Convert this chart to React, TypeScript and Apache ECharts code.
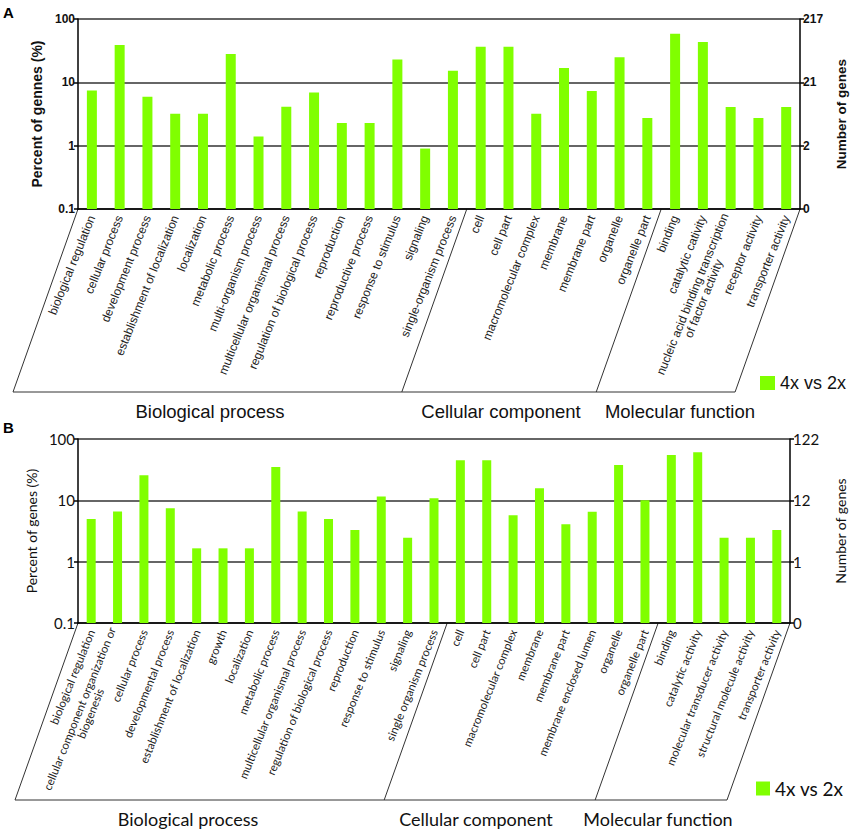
import React, { useEffect, useRef } from "react";
import * as echarts from "echarts";

const seriesName = "4x vs 2x";

const categoriesA = [
  "biological regulation",
  "cellular process",
  "development process",
  "establishment of localization",
  "localization",
  "metabolic process",
  "multi-organism process",
  "multicellular organismal process",
  "regulation of biological process",
  "reproduction",
  "reproductive process",
  "response to stimulus",
  "signaling",
  "single-organism process",
  "cell",
  "cell part",
  "macromolecular complex",
  "membrane",
  "membrane part",
  "organelle",
  "organelle part",
  "binding",
  "catalytic cativity",
  "nucleic acid binding transcription\nof factor activity",
  "receptor activity",
  "transporter activity",
];
const percentA = [
  7.4, 38.8, 5.9, 3.2, 3.2, 28, 1.39, 4.1, 6.9, 2.28, 2.28, 23, 0.9, 15.3,
  36.6, 36.6, 3.2, 16.8, 7.3, 24.8, 2.73,
  58.7, 43.3, 4.08, 2.73, 4.08,
];
const groupsA = [
  { name: "Biological process", count: 14 },
  { name: "Cellular component", count: 7 },
  { name: "Molecular function", count: 5 },
];

const categoriesB = [
  "biological regulation",
  "cellular component organization or\nbiogenesis",
  "cellular process",
  "developmental process",
  "establishment of localization",
  "growth",
  "localization",
  "metabolic process",
  "multicellular organismal process",
  "regulation of biological process",
  "reproduction",
  "response to stimulus",
  "signaling",
  "single organism process",
  "cell",
  "cell part",
  "macromolecular complex",
  "membrane",
  "membrane part",
  "membrane enclosed lumen",
  "organelle",
  "organelle part",
  "binding",
  "catalytic activity",
  "molecular transducer activity",
  "structural molecule activity",
  "transporter activity",
];
const percentB = [
  4.96, 6.6, 25.6, 7.4, 1.65, 1.65, 1.65, 34.9, 6.6, 4.96, 3.28, 11.5, 2.46, 10.8,
  44.9, 44.9, 5.7, 15.7, 4.06, 6.5, 37.7, 10.0,
  54.8, 60.6, 2.46, 2.46, 3.28,
];
const groupsB = [
  { name: "Biological process", count: 14 },
  { name: "Cellular component", count: 8 },
  { name: "Molecular function", count: 5 },
];

const leftTicks = ["0.1", "1", "10", "100"];
const rightTicksA = ["0", "2", "21", "217"];
const rightTicksB = ["0", "1", "12", "122"];

const FONT_A = "'Liberation Sans', Arial, sans-serif";
const FONT_B = "Lato, 'Open Sans', sans-serif";
const GREEN = "#80FF00";

const tickIndex = (v: number) => Math.round(Math.log10(v)) + 1;

function catLabel(fontFamily: string, fontSize: number) {
  return {
    interval: 0,
    rotate: 68,
    margin: 7,
    fontSize,
    fontFamily,
    color: "#222",
    formatter: (v: string) =>
      v.includes("\n")
        ? v
            .split("\n")
            .map((s, i) => (i === 0 ? `{a|${s}}` : `{b|${s}}`))
            .join("\n")
        : v,
    rich: {
      a: { fontSize, fontFamily, color: "#222" },
      b: { fontSize, fontFamily, color: "#222", align: "center" },
    },
  };
}

function yAxisDef(
  gridIndex: number,
  position: "left" | "right",
  labels: string[],
  name: string,
  nameGap: number,
  labelFont: any,
  nameFont: any,
  split: boolean
) {
  return {
    gridIndex,
    type: "log",
    logBase: 10,
    min: 0.1,
    max: 100,
    startValue: 0.1,
    position,
    axisLine: { show: true, lineStyle: { color: "#000", width: 1.5 } },
    axisTick: { show: true, length: 4, lineStyle: { color: "#000", width: 1.5 } },
    axisLabel: {
      ...labelFont,
      color: "#111",
      margin: 3,
      formatter: (v: number) => labels[tickIndex(v)],
    },
    splitLine: { show: split, lineStyle: { color: "#333", width: 1.5 } },
    name,
    nameLocation: "middle",
    nameRotate: 90,
    nameGap,
    nameTextStyle: { ...nameFont, color: "#111" },
  };
}

export default function App() {
  const ref = useRef<HTMLDivElement>(null);

  useEffect(() => {
    if (!ref.current) return;
    const chart = echarts.init(ref.current, undefined, { renderer: "svg" });

    const axisLineStyle = { color: "#000", width: 1.5 };
    const tickA = { fontSize: 12, fontWeight: "bold", fontFamily: FONT_A };
    const tickB = { fontSize: 15, fontFamily: FONT_B };

    const option: any = {
      animation: false,
      backgroundColor: "#fff",
      grid: [
        { left: 78, top: 19, width: 732, height: 190 },
        { left: 78, top: 439, width: 712, height: 184 },
      ],
      xAxis: [
        {
          gridIndex: 0,
          type: "category",
          data: categoriesA,
          axisLine: { lineStyle: axisLineStyle },
          axisTick: { show: false },
          axisLabel: catLabel(FONT_A, 12),
        },
        {
          gridIndex: 1,
          type: "category",
          data: categoriesB,
          axisLine: { lineStyle: axisLineStyle },
          axisTick: { show: false },
          axisLabel: catLabel(FONT_B, 11.5),
        },
      ],
      yAxis: [
        yAxisDef(0, "left", leftTicks, "Percent of gennes (%)", 25, tickA,
          { fontSize: 14, fontWeight: "bold", fontFamily: FONT_A }, true),
        yAxisDef(0, "right", rightTicksA, "Number of genes", 26, tickA,
          { fontSize: 13.5, fontWeight: "bold", fontFamily: FONT_A }, false),
        yAxisDef(1, "left", leftTicks, "Percent of genes (%)", 28, tickB,
          { fontSize: 14, fontFamily: FONT_B }, true),
        yAxisDef(1, "right", rightTicksB, "Number of genes", 43, tickB,
          { fontSize: 14, fontFamily: FONT_B }, false),
      ],
      legend: [
        {
          data: [seriesName],
          left: 755,
          top: 369,
          icon: "rect",
          itemWidth: 15,
          itemHeight: 14,
          itemGap: 6,
          selectedMode: false,
          textStyle: { fontSize: 18, fontFamily: FONT_A, color: "#111" },
        },
        {
          data: [seriesName],
          left: 751,
          top: 774,
          icon: "rect",
          itemWidth: 14,
          itemHeight: 14,
          selectedMode: false,
          textStyle: { fontSize: 19, fontFamily: FONT_B, color: "#111" },
        },
      ],
      series: [
        {
          name: seriesName,
          type: "bar",
          xAxisIndex: 0,
          yAxisIndex: 0,
          data: percentA,
          barWidth: 10,
          itemStyle: { color: GREEN },
        },
        {
          name: seriesName,
          type: "bar",
          xAxisIndex: 1,
          yAxisIndex: 2,
          data: percentB,
          barWidth: 9,
          itemStyle: { color: GREEN },
        },
      ],
    };

    chart.setOption(option);

    const build = (
      xAxisIndex: number,
      yAxisIndex: number,
      groups: { name: string; count: number }[],
      depth: number,
      slant: number,
      labelCenters: number[],
      labelDy: number,
      font: string,
      fontSize: number
    ) => {
      const x0 = chart.convertToPixel({ xAxisIndex }, 0) as number;
      const x1 = chart.convertToPixel({ xAxisIndex }, 1) as number;
      const bw = x1 - x0;
      const yTop = chart.convertToPixel({ yAxisIndex }, 0.1) as number;
      const yBot = yTop + depth;
      const edges: number[] = [x0 - bw / 2];
      let acc = 0;
      groups.forEach((g) => {
        acc += g.count;
        edges.push(x0 - bw / 2 + acc * bw);
      });
      const els: any[] = edges.map((e) => ({
        type: "line",
        silent: true,
        shape: { x1: e, y1: yTop, x2: e - slant, y2: yBot },
        style: { stroke: "#333", lineWidth: 1 },
      }));
      els.push({
        type: "line",
        silent: true,
        shape: { x1: edges[0] - slant, y1: yBot, x2: edges[edges.length - 1] - slant, y2: yBot },
        style: { stroke: "#333", lineWidth: 1 },
      });
      groups.forEach((g, i) => {
        els.push({
          type: "text",
          silent: true,
          style: {
            text: g.name,
            x: labelCenters[i],
            y: yBot + labelDy,
            align: "center",
            verticalAlign: "middle",
            fontSize,
            fontFamily: font,
            fill: "#111",
          },
        });
      });
      return els;
    };

    const graphics = [
      ...build(0, 0, groupsA, 183, 65, [210, 501, 680], 19, FONT_A, 18.5),
      ...build(1, 2, groupsB, 177, 63, [188, 476, 658], 19, FONT_B, 18),
      {
        type: "text",
        silent: true,
        style: { text: "A", x: 3, y: 5, fontSize: 15, fontWeight: "bold", fontFamily: FONT_A, fill: "#000" },
      },
      {
        type: "text",
        silent: true,
        style: { text: "B", x: 3, y: 420, fontSize: 15, fontWeight: "bold", fontFamily: FONT_A, fill: "#000" },
      },
    ];
    chart.setOption({ graphic: graphics });

    return () => chart.dispose();
  }, []);

  return (
    <div
      ref={ref}
      style={{ position: "absolute", left: 0, top: 0, width: 856, height: 833 }}
    />
  );
}
